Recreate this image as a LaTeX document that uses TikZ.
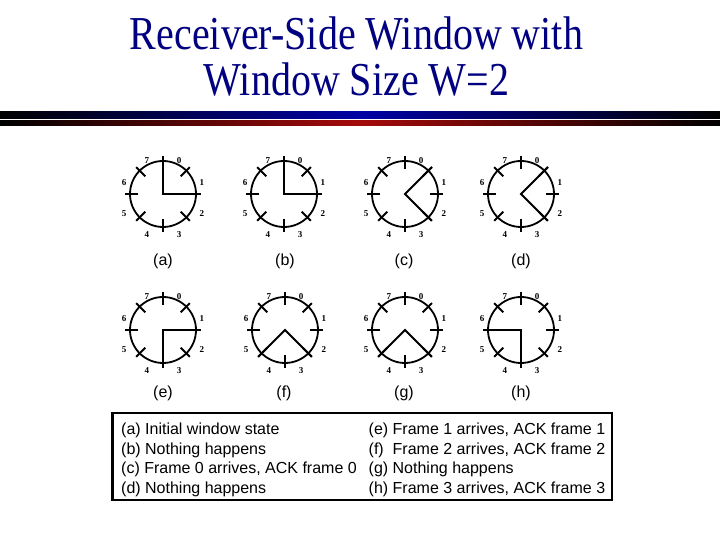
\documentclass[tikz,border=0pt]{standalone}
\usepackage{fontspec}
\setmainfont{Liberation Serif}
\setsansfont{Liberation Sans}
\usetikzlibrary{calc}
\definecolor{titlenavy}{RGB}{0,0,128}
\definecolor{barblue}{RGB}{0,0,165}
\definecolor{barred}{RGB}{165,10,10}
\tikzset{
  ring/.style={circle, draw, line width=1.8pt, minimum size=66pt, inner sep=0pt},
  clockstroke/.style={line width=1.8pt},
  numlab/.style={font=\bfseries\fontsize{9}{10}\selectfont, inner sep=0pt},
  sublab/.style={font=\sffamily\fontsize{16}{19}\selectfont, inner sep=0pt},
  legtext/.style={font=\sffamily\fontsize{16}{19}\selectfont, anchor=base west, inner sep=0pt},
  titletext/.style={font=\fontsize{40}{46}\selectfont, text=titlenavy, anchor=base, inner sep=0pt},
}
% #1 name, #2 x, #3 y, #4 first hand angle, #5 second hand angle
\newcommand\rwclock[5]{%
  \begin{scope}[shift={(#2,#3)}]
    \node[ring] (#1) at (0,0) {};
    \foreach \a in {0,45,...,315}
      \draw[clockstroke] (\a:25) -- (\a:38);
    \draw[clockstroke] (#4:38) -- (0,0) -- (#5:38);
    \foreach \n in {0,...,7}{
      \pgfmathsetmacro\ang{67.5-45*\n}
      \node[numlab] (#1-\n) at ({42*cos(\ang)},{40*sin(\ang)-4}) {\n};
    }
  \end{scope}}
\begin{document}
\begin{tikzpicture}[x=1pt,y=1pt]
  \useasboundingbox (0,0) rectangle (720,540);
  \fill[white] (0,0) rectangle (720,540);
  % title
  \node[titletext] (title1) at (356.5,490) {\scalebox{1}[1.18]{Receiver-Side Window with}};
  \node[titletext] (title2) at (356.5,444) {\scalebox{1}[1.18]{Window Size W=2}};
  % bars
  \shade[left color=black, right color=black, middle color=barblue] (0,421.3) rectangle (720,428);
  \shade[left color=black, right color=black, middle color=barred] (0,414.7) rectangle (720,419);
  % clocks, row 1
  \rwclock{ca}{163}{346}{90}{0}
  \rwclock{cb}{284}{346}{90}{0}
  \rwclock{cc}{405}{346}{45}{-45}
  \rwclock{cd}{521}{346}{45}{-45}
  % clocks, row 2
  \rwclock{ce}{163}{210}{0}{-90}
  \rwclock{cf}{285}{210}{-45}{-135}
  \rwclock{cg}{405}{210}{-45}{-135}
  \rwclock{ch}{521}{210}{-90}{180}
  % captions
  \node[sublab] (sa) at (163,279) {(a)};
  \node[sublab] (sb) at (285,279) {(b)};
  \node[sublab] (sc) at (404,279) {(c)};
  \node[sublab] (sd) at (521,279) {(d)};
  \node[sublab] (se) at (163,147) {(e)};
  \node[sublab] (sf) at (284,147) {(f)};
  \node[sublab] (sg) at (404,147) {(g)};
  \node[sublab] (sh) at (521,147) {(h)};
  % legend
  \draw[line width=2.5pt] (112.5,127) rectangle (612,40);
  \node[legtext] (la) at (121,105) {(a) Initial window state};
  \node[legtext] (lb) at (121,85.5) {(b) Nothing happens};
  \node[legtext] (lc) at (121,66) {(c) Frame 0 arrives, ACK frame 0};
  \node[legtext] (ld) at (121,46.5) {(d) Nothing happens};
  \node[legtext] (le) at (368.5,105) {(e) Frame 1 arrives, ACK frame 1};
  \node[legtext] (lf) at (368.5,85.5) {(f)\ \ Frame 2 arrives, ACK frame 2};
  \node[legtext] (lg) at (368.5,66) {(g) Nothing happens};
  \node[legtext] (lh) at (368.5,46.5) {(h) Frame 3 arrives, ACK frame 3};
\end{tikzpicture}
\end{document}
